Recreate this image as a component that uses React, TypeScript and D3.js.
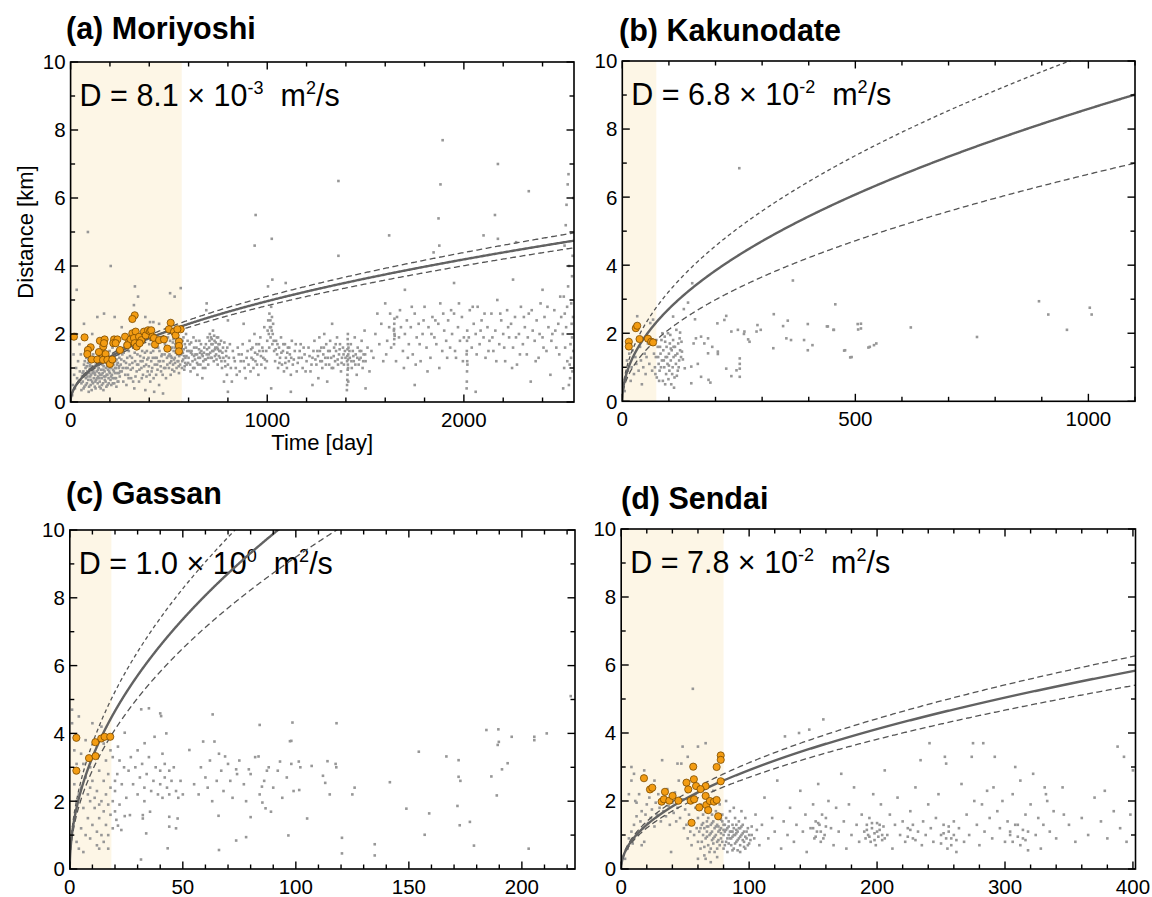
import React from 'react';
import * as d3 from 'd3';

const W = 1152;
const H = 897;
const FONT = '"Liberation Sans", Arial, Helvetica, sans-serif';

// ---------------- data (time [day], distance [km]) ----------------

const moriyoshiInitial: [number, number][] = [
  [17,1.92],[71,1.90],[102,1.61],[88,1.53],[85,1.41],[107,1.25],[136,1.25],[149,1.80],[173,1.84],[156,1.45],
  [178,1.41],[166,1.63],[170,1.73],[165,1.24],[187,1.24],[200,1.12],[212,1.25],[221,1.84],[238,1.84],[217,1.73],
  [251,1.53],[277,1.92],[297,1.77],[314,2.02],[331,2.07],[326,2.55],[314,2.44],[305,1.84],[322,1.88],[326,1.73],
  [336,1.63],[348,1.92],[360,1.82],[373,2.07],[382,1.96],[394,2.11],[404,2.08],[410,2.11],[416,1.92],[424,1.88],
  [429,1.69],[450,1.82],[475,1.84],[492,1.57],[509,2.33],[500,2.14],[526,2.07],[534,1.96],[551,1.78],[551,1.65],
  [551,1.49],[560,2.14],[543,2.14],[351,1.73],[288,1.67],[229,1.73],[144,1.47]
];

const moriyoshiOther: [number, number][] = [
  [8,0.2],[12,0.5],[18,0.8],[22,0.4],[28,1.0],[33,0.7],[38,1.2],[42,0.6],[47,0.9],[52,1.4],[55,0.35],[58,0.75],[31,3.3],[25,2.0],[45,1.7],[15,1.4],
  [62,0.6],[65,0.9],[68,1.1],[70,0.45],[73,0.8],[76,1.0],[78,0.7],[80,1.3],[83,0.55],[85,0.9],[88,1.15],[90,0.65],[92,0.3],[95,0.85],[97,1.05],
  [100,0.75],[102,0.5],[105,0.95],[108,1.2],[110,0.6],[112,0.85],[115,1.4],[118,0.7],[120,1.0],[123,0.45],[125,0.8],[128,1.1],[130,0.65],
  [133,0.9],[135,1.25],[138,0.55],[140,0.75],[143,1.0],[145,0.85],[148,0.6],[150,1.15],[153,0.4],[155,0.95],[158,0.7],[160,1.3],[163,0.85],
  [165,0.55],[168,1.05],[170,0.75],[173,0.9],[175,1.4],[178,0.6],[180,1.0],[183,0.8],[185,1.2],[188,0.5],[190,0.95],[193,0.7],[195,1.1],
  [198,1.5],[200,0.85],[203,0.65],[205,1.0],[208,1.3],[210,0.8],[213,1.6],[215,0.55],[218,1.1],[220,0.9],[223,1.35],[225,0.7],[228,1.2],
  [230,1.0],[233,0.45],[235,1.5],[238,0.85],[240,1.15],[243,0.6],[245,1.0],[248,1.3],[250,0.75],
  [96,0.95],[104,0.8],[116,0.9],[126,0.6],[136,1.05],[146,0.7],[157,0.8],[167,0.95],[177,0.75],[186,1.05],[196,0.9],[206,0.75],[216,0.95],[226,0.85],[236,1.1],[246,0.85],
  [55,0.55],[61,0.85],[66,0.4],[72,1.2],[77,0.5],[82,1.05],[86,0.75],[91,1.25],[94,0.45],[99,1.1],[103,0.65],[107,0.35],[111,1.05],[114,0.55],
  [119,1.3],[122,0.85],[127,0.4],[131,1.2],[134,0.7],[139,0.95],[142,1.35],[147,0.45],[151,0.8],[154,1.2],[159,0.5],[162,1.1],[167,0.35],
  [171,1.25],[174,0.65],[179,1.15],[182,0.45],[187,0.8],[191,1.35],[194,0.55],[199,1.0],[202,1.2],[207,0.5],[211,1.05],[214,0.7],[219,1.4],
  [222,0.55],[227,1.0],[231,0.7],[234,1.25],[239,0.6],[242,1.4],[247,1.05],
  [88,5.0],[204,4.0],[136,2.5],[170,2.6],[224,2.5],[68,2.3],[110,2.0],
  [255,1.1],[260,0.9],[263,1.4],[268,0.6],[272,1.2],[276,1.7],[280,1.0],[284,0.5],[288,1.3],[292,0.8],[296,1.5],[300,1.1],[304,1.8],[308,0.7],
  [312,1.3],[316,1.0],[320,1.6],[324,0.4],[328,1.2],[332,1.9],[336,0.9],[340,1.4],[344,1.1],[348,0.6],[352,1.7],[356,1.2],[360,1.0],[364,1.5],
  [368,0.8],[372,1.3],[376,1.8],[380,0.35],[384,1.1],[388,1.5],[392,0.9],[396,1.3],[400,1.7],[405,0.6],[410,1.2],[415,1.0],[420,1.5],[425,0.3],
  [430,1.3],[435,0.8],[440,1.1],[445,1.6],[450,0.5],[455,1.2],[460,0.9],[465,1.4],[470,0.25],[475,1.0],[480,1.7],[485,0.7],[490,1.3],[495,1.9],
  [252,0.9],[258,1.25],[265,1.0],[270,1.45],[278,0.8],[282,1.15],[290,1.0],[295,0.7],[302,1.35],[306,0.95],[314,1.15],[318,0.6],[326,1.45],
  [330,0.75],[338,1.1],[342,1.6],[350,0.95],[354,1.35],[362,0.7],[366,1.2],[374,1.05],[378,1.45],[386,0.75],[390,1.25],[398,1.05],[402,0.8],
  [408,1.45],[412,0.9],[418,1.3],[422,0.7],[428,1.1],[432,1.6],[438,1.3],[442,0.95],[448,1.2],[452,1.5],[458,1.05],[462,1.35],[468,0.8],
  [472,1.2],[478,1.4],[482,1.0],[488,1.55],[492,1.1],[498,1.35],
  [327,3.4],[343,3.1],[322,2.85],[404,2.35],[421,2.35],[506,3.2],[529,3.1],[560,3.35],[260,2.2],[380,2.5],[450,2.3],
  [500,1.0],[503,1.4],[506,1.8],[509,0.8],[512,1.2],[515,1.6],[518,2.0],[521,1.1],[524,1.5],[527,0.9],[530,1.3],[533,1.7],[536,2.1],[539,1.0],
  [542,1.4],[545,1.9],[548,1.2],[551,0.85],[554,1.6],[557,1.1],[560,2.2],[563,1.4],[566,1.0],[569,1.8],[572,1.25],[575,1.55],[578,0.95],
  [581,1.7],[584,1.3],[587,2.0],[590,1.1],[593,1.5],[510,1.35],[520,1.75],[531,1.15],[541,1.55],[552,1.35],[562,1.65],[571,1.45],[583,1.15],
  [505,1.15],[508,1.55],[514,1.3],[517,0.95],[523,1.85],[526,1.25],[529,1.6],[535,1.45],[538,1.8],[544,1.2],[547,1.6],[550,1.05],[556,1.4],
  [559,1.8],[565,1.6],[568,1.2],[574,1.9],[577,1.35],[580,1.05],[586,1.6],[589,1.35],[595,1.8],[598,1.15],
  [600,1.3],[605,1.7],[610,0.9],[615,1.5],[620,1.2],[625,1.9],[630,1.0],[635,1.4],[640,1.6],[645,0.8],[650,1.3],[655,1.8],[660,1.1],[665,1.5],
  [670,0.7],[675,1.2],[680,1.6],[685,1.0],[690,2.7],[692,1.4],[697,1.9],[700,1.1],[704,1.6],[708,2.0],[712,1.3],[716,1.7],[720,1.5],[724,2.1],
  [728,1.2],[732,1.8],[736,1.6],[740,1.4],[744,1.9],[748,1.1],[752,1.7],[756,1.5],[760,1.3],[765,1.8],[770,1.0],[775,1.6],[780,0.6],[785,1.2],
  [790,1.5],[795,0.8],[800,1.1],[810,1.7],[820,0.6],[830,1.3],[840,1.0],[850,1.6],[860,0.9],[870,1.4],[880,1.2],[890,0.7],[900,1.5],[905,1.1],
  [603,1.5],[608,1.1],[613,1.75],[618,1.4],[623,1.0],[628,1.6],[633,1.25],[638,1.8],[643,1.4],[648,1.1],[653,1.55],[658,1.3],[663,1.7],
  [668,1.4],[673,1.0],[678,1.45],[683,1.25],[688,1.7],[694,1.55],[699,1.3],[706,1.8],[710,1.45],[714,1.9],[718,1.3],[722,1.7],[726,1.5],
  [730,1.95],[734,1.55],[738,1.75],[742,1.25],[746,1.6],[750,1.9],[754,1.35],[758,1.7],[762,1.5],[767,1.2],[772,1.45],[777,1.3],[782,1.75],
  [787,1.05],[792,1.35],[797,1.6],
  [910,1.8],[915,0.9],[920,1.3],[925,1.6],[930,1.0],[935,2.0],[940,1.2],[945,1.7],[950,1.4],[955,0.8],[960,1.5],[965,1.9],[970,1.1],[975,1.6],
  [980,1.3],[985,2.2],[990,1.0],[995,1.5],[1000,1.8],[1005,2.4],[1008,2.0],[1011,2.6],[1014,2.2],[1017,1.9],[1020,2.8],[1023,2.1],[1026,1.7],
  [1030,2.3],[1035,1.5],[1040,1.2],[1045,1.8],[1050,1.4],[1055,1.0],[1060,1.6],[1065,1.3],[1070,1.9],[1075,1.1],[1080,1.5],[1085,0.9],
  [1090,1.7],[1095,1.3],[1100,1.0],[1105,1.6],[1110,1.2],[1115,1.4],[1120,0.8],[1125,1.8],[1130,1.1],[1140,1.5],[1150,0.9],[1160,1.3],
  [1170,1.7],[1180,1.0],[1190,1.4],[1200,1.2],[612,1.45],[628,1.35],[643,1.15],[658,1.45],[672,1.35],[688,1.25],[703,1.4],[718,1.85],[734,1.35],[749,1.55],
  [805,1.3],[815,1.0],[825,1.5],[835,1.2],[845,0.8],[855,1.4],[865,1.2],[875,1.7],[885,1.0],[895,1.3],[918,1.55],[928,1.25],[938,1.45],
  [948,1.1],[958,1.7],[968,1.35],[978,1.5],[988,1.25],[998,1.2],[1002,2.1],[1010,1.6],[1016,2.4],[1019,2.2],[1024,2.5],[1028,2.0],[1033,1.8],
  [1043,1.55],[1052,1.7],[1062,1.15],[1072,1.45],[1082,1.7],[1092,1.15],[1102,1.45],[1112,1.6],[1122,1.3],[1135,1.25],[1145,1.7],[1155,1.15],
  [1165,1.5],[1175,1.3],[1185,1.6],[1195,0.9],
  [941,5.5],[936,4.6],[1023,4.8],[1026,3.6],[1004,3.4],[1094,3.5],[692,2.9],[800,2.4],[880,2.3],
  [1210,1.6],[1220,0.9],[1230,1.3],[1240,1.8],[1250,1.1],[1255,1.5],[1260,0.7],[1265,1.9],[1270,1.2],[1275,1.6],[1280,1.0],[1285,1.4],
  [1290,2.0],[1295,1.3],[1300,1.7],[1305,0.6],[1310,1.5],[1315,1.1],[1320,1.8],[1325,1.3],[1330,2.3],[1335,1.0],[1340,1.6],[1345,1.2],
  [1350,1.5],[1355,1.9],[1360,1.1],[1365,1.4],[1370,1.7],[1375,0.9],[1380,1.3],[1385,1.6],[1390,1.1],[1395,1.5],
  [1215,1.35],[1225,1.1],[1235,1.5],[1245,1.25],[1258,1.35],[1268,1.5],[1278,1.2],[1288,1.6],[1298,1.1],[1308,1.3],[1318,1.5],[1328,1.0],
  [1338,1.35],[1348,1.7],[1358,1.25],[1368,1.55],[1378,1.15],[1388,1.4],[1398,1.3],[1418,1.5],[1428,1.2],[1438,1.35],[1448,1.1],[1458,1.3],
  [1468,1.25],[1478,1.5],[1488,1.2],[1498,1.4],
  [1405,0.35],[1406,0.5],[1407,0.65],[1408,0.8],[1409,0.95],[1410,1.1],[1411,1.25],[1412,1.4],[1408,1.55],[1410,1.7],[1409,1.85],[1411,1.0],
  [1407,1.35],[1412,0.6],[1413,1.6],[1406,1.2],[1410,2.0],
  [1420,1.3],[1425,1.7],[1430,1.0],[1435,1.5],[1440,1.2],[1445,1.9],[1450,1.4],[1455,0.8],[1460,1.6],[1465,1.1],[1470,1.5],[1475,1.3],
  [1480,1.8],[1485,1.0],[1490,1.4],[1495,2.1],[1500,1.2],[1510,1.6],[1520,0.9],[1530,1.5],[1540,1.3],[1550,2.0],[1560,2.6],[1570,1.7],
  [1580,2.3],[1590,1.2],[1600,2.9],[1610,1.8],[1620,2.2],[1630,1.6],
  [1645,1.7],[1646,1.85],[1647,2.0],[1645,2.15],[1646,2.3],[1647,2.45],[1648,1.95],[1644,2.1],
  [1660,2.5],[1670,1.9],[1680,2.2],[1690,1.5],[1700,2.0],[1710,2.4],[1720,1.7],[1730,2.2],[1740,1.4],[1750,2.6],[1760,1.9],[1770,2.3],
  [1780,1.2],[1790,2.0],[1800,2.8],[1810,1.6],[1820,2.2],[1830,1.3],[1840,2.5],[1850,1.9],[1860,1.7],[1870,2.3],[1880,2.9],[1890,1.5],
  [1900,2.1],[1910,1.8],[1920,2.4],[1930,1.6],[1940,2.0],[1950,2.6],[1960,1.3],[1970,2.2],[1980,1.8],[1990,2.5],[2000,1.9],
  [1605,1.4],[1625,2.6],[1655,1.2],[1675,2.7],[1695,1.0],[1715,1.3],[1735,2.8],[1755,1.1],[1775,1.7],[1795,2.4],[1815,0.9],[1835,2.0],
  [1855,2.4],[1875,1.0],[1895,2.6],[1915,1.3],[1935,2.7],[1955,1.5],[1975,2.9],[1995,1.2],
  [2014,0.4],[2015,0.6],[2016,0.9],[2017,1.2],[2015,1.5],[2016,1.8],[2017,2.1],[2018,1.1],[2014,1.4],
  [2030,2.7],[2040,1.6],[2050,2.3],[2060,2.0],[2070,2.8],[2080,1.7],[2090,2.4],[2100,1.9],[2110,1.3],[2120,2.2],[2130,1.8],[2140,2.6],
  [2150,1.5],[2160,2.1],[2170,3.0],[2180,1.7],[2190,2.4],[2200,2.0],[2210,1.2],[2220,2.7],[2230,1.9],[2240,2.3],[2250,1.6],[2260,2.5],
  [2270,1.1],[2280,2.0],[2290,2.8],[2300,1.7],[2310,2.2],[2320,1.4],[2330,2.6],[2340,0.6],[2350,2.1],[2360,1.8],[2370,2.4],[2380,1.3],
  [2390,2.9],[2400,1.9],[2410,2.5],[2420,1.5],[2430,2.2],[2440,0.8],[2450,2.0],[2460,2.7],[2470,1.6],[2480,2.3],[2490,3.1],
  [2025,1.9],[2045,2.8],[2065,1.4],[2085,2.1],[2105,2.6],[2125,1.5],[2145,1.9],[2165,1.2],[2185,2.6],[2205,1.6],[2225,2.2],[2245,1.0],
  [2265,1.9],[2285,1.4],[2305,2.5],[2325,1.9],[2345,2.7],[2365,1.2],[2385,2.0],[2405,1.6],[2425,2.8],[2445,1.8],[2465,2.1],[2485,1.4],[2495,2.5],
  [1362,6.5],[1362,4.3],[1620,4.9],[1892,7.7],[1881,6.4],[1871,5.4],[1875,4.6],[1846,4.4],[2173,7.0],[2158,5.5],[2173,4.8],[2266,4.7],
  [2330,6.2],[2100,4.9],[1700,3.3],[1950,3.5],[2250,3.6],[2400,3.3],[1500,0.4],[1750,0.5],[2060,0.3],[1230,0.5],[1020,0.4],[800,0.3],[1120,0.3],
  [2505,0.4],[2510,1.0],[2515,1.6],[2520,2.2],[2525,2.8],[2530,3.4],[2535,4.0],[2540,0.7],[2545,1.3],[2550,1.9],[2555,2.5],[2508,3.1],
  [2512,4.6],[2518,5.2],[2522,5.8],[2528,6.4],[2532,6.7],[2538,1.1],[2542,1.7],[2548,2.3],[2552,0.9],[2557,1.5],[2503,2.0],[2526,1.2],
  [2534,0.5],[2546,2.9],[2550,3.7],[2553,4.3],[2556,6.0],[2513,2.6]
];

const kakunodateInitial: [number, number][] = [
  [14,1.75],[14,1.61],[29,2.15],[32,2.22],[37,1.83],[55,1.84],[62,1.75],[66,1.73]
];

const kakunodateOther: [number, number][] = [
  [5,0.3],[8,0.7],[10,1.2],[12,0.9],[15,1.4],[18,0.6],[20,1.0],[22,1.5],[25,0.8],[28,1.3],[30,1.1],[32,2.5],[35,0.9],[38,1.6],[40,1.2],
  [42,0.5],[45,1.0],[48,1.4],[50,0.8],[52,1.3],[55,1.7],[58,1.1],[60,2.3],[64,0.9],[66,2.4],
  [70,1.0],[72,1.3],[74,0.7],[76,1.6],[78,1.1],[80,0.9],[82,1.4],[84,1.8],[85,1.2],[87,0.6],[88,1.5],[90,1.0],[91,1.9],[93,1.3],[94,0.8],
  [95,1.6],[97,1.1],[98,2.0],[100,1.4],[101,0.9],[102,1.7],[104,1.2],[105,0.5],[106,1.5],[108,1.0],[109,1.8],[110,1.3],[112,0.7],[113,1.6],
  [115,1.1],[116,2.1],[118,1.4],[119,0.9],[120,1.7],[122,1.2],[124,1.5],[86,2.0],[92,1.75],[103,1.95],[99,0.65],[111,0.4],
  [68,1.4],[71,0.8],[73,1.8],[77,1.3],[79,0.6],[81,1.6],[83,1.0],[89,1.2],[92,0.5],[96,1.3],[100,1.05],[104,1.55],[107,0.8],[110,1.6],
  [114,1.35],[117,0.75],[121,1.0],[123,1.85],[126,1.3],
  [251,6.85],[366,3.55],[457,2.85],[150,3.47],[141,2.9],[132,2.71],[109,2.49],[156,2.41],[223,2.51],[219,2.39],[204,2.29],
  [325,2.56],[355,2.37],[345,2.21],[398,2.27],[439,2.2],[453,2.1],[505,2.27],[506,2.11],[619,2.17],[290,2.24],[297,2.1],[288,2.05],
  [234,2.05],[262,2.05],[261,1.98],[248,2.1],[270,1.82],[273,1.75],[324,1.56],[352,1.85],[362,1.8],[390,1.8],[408,1.65],[398,1.5],
  [476,1.49],[489,1.29],[528,1.58],[540,1.65],[223,0.96],[234,0.74],[245,0.91],[252,1.1],[252,1.26],[252,0.96],[252,0.72],[205,1.46],
  [205,1.39],[184,1.41],[193,1.6],[162,1.1],[148,1.02],[148,0.53],[169,0.72],[185,0.63],[189,0.55],[134,0.97],[130,1.23],[128,1.46],
  [127,1.75],[124,2.02],[153,1.7],[158,1.85],[176,1.7],[184,1.85],[169,1.9],
  [894,2.94],[914,2.55],[954,2.1],[1003,2.75],[1007,2.55],[761,1.89],[512,2.28],[512,2.14],[545,1.7],[531,1.6],[492,1.3],[478,1.5],[441,2.2],[454,2.1]
];

const gassanInitial: [number, number][] = [
  [2.9,3.87],[2.9,2.9],[8.5,3.27],[11.4,3.33],[11.3,3.74],[13.9,3.85],[15.4,3.9],[17.9,3.9]
];

const gassanOther: [number, number][] = [
  [1,4.7],[1,4.3],[2,3.5],[2,2.5],[3,2.0],[2,1.5],[3,0.8],[4,0.6],[5,1.2],[5,2.4],[6,3.1],[6,1.8],[7,2.7],[7,1.0],[8,2.2],[8,1.5],[9,3.0],
  [9,2.0],[9,0.9],[10,1.3],[10,2.6],[11,1.8],[11,3.4],[12,2.3],[12,1.1],[12,0.7],[13,2.9],[13,1.5],[14,2.0],[14,1.0],[15,2.6],[15,1.7],
  [15,0.8],[16,3.2],[16,2.2],[16,1.3],[17,1.9],[17,2.8],[17,1.0],[18,2.4],[18,1.6],[18,3.5],[14,4.2],[10,4.3],[3,3.1],[4,2.2],[6,0.5],[13,0.6],
  [2,3.9],[4,4.5],[5,3.4],[7,3.8],[9,2.4],[11,2.1],[13,1.9],[15,3.7],[17,0.6],[19,2.0],[19,1.2],[20,2.6],
  [24.3,4.02],[21.3,3.61],[33.1,3.71],[37.5,3.9],[42.7,4.0],[31.6,4.71],[35,4.74],[40,4.59],[40.4,4.51],[63.2,4.56],[52.9,3.51],[59,3.76],
  [64,3.76],[68.7,3.32],[73.6,2.94],[79.2,2.94],[87.2,2.9],[83.5,3.32],[84,4.25],[93,3.17],[97.4,3.77],[85.2,1.96],[85,2.43],[86.6,1.79],
  [89,1.69],[80,1.53],[65.8,1.57],[73.6,0.84],[78,0.94],[66,0.56],[96.7,0.99],[43.3,0.61],[31.5,0.28],[33.8,1.05],[32.3,1.59],[32.3,1.49],
  [35.5,1.69],[26.6,1.59],[24.3,1.56],[21.3,1.28],[20.6,1.45],[22.8,1.15],[44,1.54],[47.7,1.49],[47,1.2],[44,1.25],
  [26,2.9],[27,3.3],[28,2.5],[29,3.0],[30,2.2],[30,3.5],[31,2.7],[32,3.1],[33,2.4],[33,2.0],[34,2.8],[35,3.3],[36,2.3],[37,2.6],[38,3.0],
  [39,2.2],[40,2.9],[40,2.5],[41,3.4],[41,2.1],[42,2.7],[42,3.1],[43,2.4],[44,2.9],[44,2.2],[45,2.6],[46,3.0],[47,2.3],[48,2.1],[49,2.6],[50,2.2],
  [20,2.3],[21,2.8],[22,3.2],[22,1.9],[23,2.5],[24,3.0],[25,2.1],[19,3.3],[20,1.7],
  [55,2.5],[57,2.2],[58,3.0],[60,2.7],[61,2.4],[62,3.2],[63,2.0],[65,2.6],[66,3.4],[67,2.9],[68,2.3],[70,3.1],[71,2.6],[72,2.1],[74,2.8],
  [75,3.2],[77,2.5],[78,2.0],[80,2.8],[82,3.3],[84,2.2],[86,2.6],[88,3.0],[90,2.4],[92,2.9],[94,2.1],[96,2.7],[98,3.1],[99,2.3],
  [98.5,4.32],[98,3.78],[101.3,3.17],[102,3.0],[101.5,2.33],[107,3.04],[105,1.49],[112,2.75],[113,2.54],[115,2.2],[114,3.18],[117.6,3.1],
  [117.9,3.0],[118,4.3],[125,2.2],[126,2.4],[120.4,0.92],[120.4,0.46],[134.9,0.73],[134.9,0.4],[141.6,2.56],[148.9,1.78],[154.4,3.46],
  [159,1.64],[157,1.01],[166.6,3.32],[172,3.21],[172,2.72],[172.8,2.6],[171.5,1.86],[172.5,1.29],[177,1.39],[178.8,0.69],[184.3,4.1],
  [189.6,4.12],[189.8,3.75],[189.3,3.66],[193.7,3.12],[191.2,2.94],[186.5,2.73],[188.9,2.17],[195.5,3.9],
  [205.5,3.9],[205.5,3.8],[211,4.0],[203,0.6],[221.6,5.1]
];

const sendaiInitial: [number, number][] = [
  [17.8,2.67],[22.5,2.34],[24.3,2.39],[34.2,2.27],[31.6,1.98],[33.4,2.05],[37.6,2.01],[40.2,2.15],[44.7,2.01],[51,2.54],[52.4,2.34],
  [56.3,3.01],[56.8,2.64],[58.5,2.44],[54.3,2.01],[55,1.36],[61,1.81],[57,2.05],[66,2.44],[66,2.15],[66.5,1.88],[69.3,2.0],[72.5,1.98],
  [74.6,2.03],[68,1.73],[77.8,3.34],[77.8,3.21],[74.6,3.0],[75.8,1.55],[77.8,2.58],[62,2.35]
];

const sendaiOther: [number, number][] = [
  [3,0.3],[5,0.6],[6,0.9],[8,1.1],[9,0.75],[10,1.3],[11,2.0],[12,1.55],[13,1.0],[14,2.2],[15,1.4],[16,1.7],[17,1.2],[18,2.9],[19,1.6],
  [20,1.9],[21,1.35],[22,2.1],[23,1.5],[24,1.75],[25,2.4],[26,1.25],[27,1.95],[28,1.6],[29,2.2],[30,1.8],[31,1.4],[32,3.2],[33,1.7],
  [34,2.0],[35,1.55],[36,2.35],[37,1.85],[38,1.3],[39,0.5],[40,1.95],[41,1.65],[42,2.25],[43,1.4],[44,1.8],[45,2.6],[46,1.5],[47,3.1],
  [48,2.05],[49,1.2],[50,1.75],[6,2.2],[8,2.6],[10,2.8],[12,1.95],[16,0.7],[8,3.0],[26,2.6],[18,0.8],
  [56,5.3],[48,3.6],[60,3.6],[66,3.7],[52,3.3],[44,3.1],
  [51,1.3],[52,0.9],[53,1.6],[54,1.1],[55,0.7],[56,1.4],[57,1.0],[58,1.8],[59,1.2],[60,0.8],[60,1.5],[61,1.1],[62,1.9],[62,0.6],[63,1.3],
  [64,1.0],[64,1.6],[65,0.4],[65,1.2],[66,0.9],[66,1.7],[67,1.4],[67,1.1],[68,0.7],[68,1.5],[69,1.0],[69,1.8],[70,1.3],[70,0.6],[71,1.1],
  [71,1.6],[72,0.9],[72,1.4],[73,1.2],[73,0.5],[74,1.7],[74,1.0],[75,1.3],[75,0.8],[76,1.5],[76,1.1],[77,0.7],[77,1.9],[78,1.2],[78,0.9],
  [79,1.4],[79,1.6],[80,1.0],[80,0.6],[81,1.3],[81,1.1],[82,0.8],[82,1.5],[83,1.2],[83,0.5],[84,1.0],[84,1.4],[85,0.9],[85,1.7],[86,1.1],
  [86,0.7],[87,1.3],[87,0.95],[88,1.2],[88,0.6],[89,1.0],[89,1.5],[90,0.8],[90,1.3],[91,1.1],[91,0.55],[92,0.9],[92,1.4],[93,1.2],[93,0.7],
  [94,1.0],[95,0.85],[95,1.3],[96,1.1],[97,0.6],[97,1.5],[98,0.9],[99,1.2],[100,0.75],[66,0.3],[70,0.2],[75,0.35],[60,0.3],[58,2.2],
  [72,2.3],[82,2.0],[88,1.8],[94,1.7],[67,1.25],[71,0.85],[76,1.25],[80,1.15],[84,0.75],[87,1.1],[90,1.05],[93,0.95],[96,0.8],[78,1.05],
  [62,1.2],[63,0.8],[64,1.35],[65,0.65],[67,0.95],[68,1.25],[69,0.5],[70,1.05],[71,1.35],[72,0.75],[73,0.95],[74,1.25],[75,0.6],[76,0.85],
  [77,1.15],[78,1.45],[79,0.8],[80,1.3],[81,0.7],[82,1.15],[83,0.9],[84,1.25],[85,1.1],[86,0.9],[87,0.55],[88,1.0],[89,0.75],[90,1.15],
  [91,0.85],[92,1.2],[93,0.5],[94,1.25],[95,1.05],[96,0.65],[97,0.95],[98,1.1],[99,0.7],[100,1.0],[101,0.85],[102,1.25],[104,0.9],[106,1.15],
  [102,1.0],[105,1.6],[108,0.7],[110,1.3],[112,2.1],[115,0.9],[118,1.5],[120,1.1],[122,2.6],[125,0.6],[127,1.4],[128,3.9],[130,1.0],
  [132,1.8],[135,0.8],[137,1.3],[139,4.0],[140,2.3],[142,1.1],[144,1.6],[145,0.5],[147,4.1],[148,1.2],[150,1.9],[151,0.9],[152,1.4],
  [153,1.1],[154,2.5],[155,1.3],[156,0.8],[157,1.6],[158,4.4],[159,1.0],[160,1.5],[162,2.0],[164,1.2],[166,0.7],[168,1.8],[170,1.1],
  [172,2.8],[174,1.4],[176,0.6],[178,1.9],[180,1.0],[182,2.4],[184,1.3],[186,0.8],[188,1.6],[190,1.1],[191,0.9],[192,1.3],[193,1.0],
  [194,1.5],[195,0.8],[196,1.2],[197,2.2],[198,1.05],[199,0.7],[200,1.35],[201,0.95],[202,1.15],[203,1.9],[204,0.85],[205,1.25],[206,2.9],
  [150,1.2],[152,0.95],[154,1.35],[156,1.1],[158,0.9],[160,1.25],[192,1.15],[194,0.95],[196,1.35],[198,0.85],[200,1.1],[202,1.3],[204,1.0],
  [206,0.9],[224,0.95],[226,1.15],[228,1.3],[230,0.85],[250,0.75],[252,1.05],[254,0.9],[256,1.25],[258,0.7],[260,1.0],[262,0.85],[304,1.1],
  [306,0.8],[308,1.3],[310,0.95],[312,0.7],[314,1.15],[316,0.85],[318,0.55],
  [208,1.0],[210,1.6],[212,0.6],[214,1.3],[216,2.1],[218,1.0],[220,1.4],[222,0.8],[224,1.2],[226,1.7],[228,0.9],[230,2.4],[232,1.1],
  [234,3.2],[235,0.7],[236,1.4],[238,1.0],[240,1.9],[241,3.7],[242,1.2],[244,0.8],[246,1.5],[248,2.2],[250,1.0],[252,1.3],[253,3.3],
  [254,3.1],[255,0.6],[256,1.1],[258,0.9],[260,1.4],[262,0.5],[264,1.2],[266,2.5],[268,0.8],[270,1.6],[272,1.0],[274,3.3],[275,3.7],
  [276,2.0],[278,1.3],[280,0.7],[282,1.9],[283,3.7],[284,1.1],[286,2.3],[288,1.5],[290,0.9],[291,2.4],[292,3.3],[294,1.7],[296,1.2],
  [298,2.0],[300,0.8],[302,1.4],[304,1.0],[306,2.2],[308,3.0],[310,1.3],[312,2.6],[314,0.9],[316,1.6],[318,1.1],[320,1.9],[322,2.8],
  [324,1.0],[326,1.5],[328,0.6],[330,1.3],[331,2.4],[332,2.2],[333,2.0],[335,1.1],[338,1.7],[340,0.9],[345,2.4],[346,1.6],[350,1.3],
  [355,0.8],[360,1.5],[365,1.0],[370,2.1],[375,1.4],[378,2.3],[380,0.9],[385,1.7],[388,3.6],[390,1.2],[393,3.3],[395,0.8],[398,1.6],[400,2.9]
];

// ---------------- panel settings ----------------

const panelTitles = ['(a) Moriyoshi', '(b) Kakunodate', '(c) Gassan', '(d) Sendai'];
const diffusivity = [8.1e-3, 6.8e-2, 1.0, 7.8e-2];          // m^2/s (best fit)
const diffusivityUpper = [8.9e-3, 9.6e-2, 1.26, 9.0e-2];
const diffusivityLower = [7.4e-3, 4.1e-2, 0.78, 6.7e-2];
const mantissaLabels = ['8.1', '6.8', '1.0', '7.8'];
const exponentLabels = ['-3', '-2', '0', '-2'];
const timeMax = [2560, 1100, 223.5, 402];
const initialPeriodEnd = [565, 73, 18.4, 80];
const majorTickStep = [1000, 500, 50, 100];
const minorTickStep = [200, 100, 10, 20];
const initialSets = [moriyoshiInitial, kakunodateInitial, gassanInitial, sendaiInitial];
const otherSets = [moriyoshiOther, kakunodateOther, gassanOther, sendaiOther];

// frames: [left, right, top, bottom]
const frames: [number, number, number, number][] = [
  [70.6, 574, 62, 402],
  [622.3, 1135, 61, 401.3],
  [69.8, 575, 530, 869],
  [621.2, 1135.5, 529, 869],
];
const titlePos: [number, number][] = [[66, 39], [619, 41], [66, 504], [621, 509]];

const radiusKm = (D: number, tDays: number) => Math.sqrt(4 * Math.PI * D * tDays * 86400) / 1000;

function Panel({ i }: { i: number }) {
  const [left, right, top, bottom] = frames[i];
  const xMax = timeMax[i];
  const x = d3.scaleLinear().domain([0, xMax]).range([left, right]);
  const y = d3.scaleLinear().domain([0, 10]).range([bottom, top]);
  const ts = d3.range(0, 801).map((k) => xMax * Math.pow(k / 800, 2));
  const curve = (D: number) =>
    d3.line<number>().x((t) => x(t)).y((t) => y(radiusKm(D, t)))(ts) || '';
  const minorX = d3.range(0, xMax + 1e-9, minorTickStep[i]);
  const majorX = d3.range(0, xMax + 1e-9, majorTickStep[i]);
  const yMinor = d3.range(0, 11, 1);
  const yMajor = d3.range(0, 11, 2);
  const clipId = `clip-${i}`;
  const upperDash = i === 1 || i === 2 ? '4,3' : '6,3.5';
  const lowerDash = '6,3.5';
  const fs = 30.5;
  return (
    <g>
      <defs>
        <clipPath id={clipId}>
          <rect x={left} y={top} width={right - left} height={bottom - top} />
        </clipPath>
      </defs>
      <rect x={x(0)} y={top} width={x(initialPeriodEnd[i]) - x(0)} height={bottom - top} fill="#fdf6e6" />
      <g clipPath={`url(#${clipId})`}>
        {otherSets[i].map(([t, r], k) => (
          <rect key={k} x={x(t) - 1.3} y={y(r) - 1.3} width={2.6} height={2.6} fill="#979797" />
        ))}
      </g>
      <text x={left + 9} y={top + 44} fontSize={fs} fill="#000">
        <tspan>{`D = ${mantissaLabels[i]} × 10`}</tspan>
        <tspan fontSize={18} dy={-12}>{exponentLabels[i]}</tspan>
        <tspan dx={17} dy={12}>m</tspan>
        <tspan fontSize={18} dy={-12}>2</tspan>
        <tspan dy={12}>/s</tspan>
      </text>
      <g clipPath={`url(#${clipId})`} fill="none">
        <path d={curve(diffusivityUpper[i])} stroke="#555" strokeWidth={1.3} strokeDasharray={upperDash} />
        <path d={curve(diffusivityLower[i])} stroke="#555" strokeWidth={1.3} strokeDasharray={lowerDash} />
        <path d={curve(diffusivity[i])} stroke="#626262" strokeWidth={2.4} />
      </g>
      <g>
        {initialSets[i].map(([t, r], k) => (
          <circle key={k} cx={x(t)} cy={y(r)} r={3.6} fill="#f39c12" stroke="#7a4a00" strokeWidth={0.8} />
        ))}
      </g>
      <rect x={left} y={top} width={right - left} height={bottom - top} fill="none" stroke="#000" strokeWidth={1.6} />
      <g stroke="#000" strokeWidth={1.4}>
        {minorX.map((t) => {
          const len = majorX.some((m) => Math.abs(m - t) < 1e-9) ? 7.5 : 4.5;
          return (
            <g key={`x${t}`}>
              <line x1={x(t)} x2={x(t)} y1={bottom} y2={bottom - len} />
              <line x1={x(t)} x2={x(t)} y1={top} y2={top + len} />
            </g>
          );
        })}
        {yMinor.map((v) => {
          const len = v % 2 === 0 ? 7.5 : 4.5;
          return (
            <g key={`y${v}`}>
              <line x1={left} x2={left + len} y1={y(v)} y2={y(v)} />
              <line x1={right} x2={right - len} y1={y(v)} y2={y(v)} />
            </g>
          );
        })}
      </g>
      <g fontSize={20.5} fill="#000">
        {yMajor.map((v) => (
          <text key={`yl${v}`} x={left - 5} y={y(v)} dy="0.36em" textAnchor="end">{v}</text>
        ))}
        {majorX.map((t) => (
          <text key={`xl${t}`} x={x(t)} y={bottom + 25} textAnchor="middle">{t}</text>
        ))}
      </g>
      <text x={titlePos[i][0]} y={titlePos[i][1]} fontSize={30.5} fontWeight="bold" fill="#000">{panelTitles[i]}</text>
    </g>
  );
}

export default function App() {
  const [aLeft, aRight, aTop, aBottom] = frames[0];
  return (
    <svg
      width={W}
      height={H}
      viewBox={`0 0 ${W} ${H}`}
      style={{ position: 'absolute', left: 0, top: 0, display: 'block' }}
      fontFamily={FONT}
    >
      <rect width={W} height={H} fill="#fff" />
      {[0, 1, 2, 3].map((i) => (
        <Panel key={i} i={i} />
      ))}
      <text x={(aLeft + aRight) / 2} y={aBottom + 48} fontSize={22} textAnchor="middle">Time [day]</text>
      <text
        transform={`translate(33,${(aTop + aBottom) / 2}) rotate(-90)`}
        fontSize={22}
        textAnchor="middle"
      >
        Distance [km]
      </text>
    </svg>
  );
}
